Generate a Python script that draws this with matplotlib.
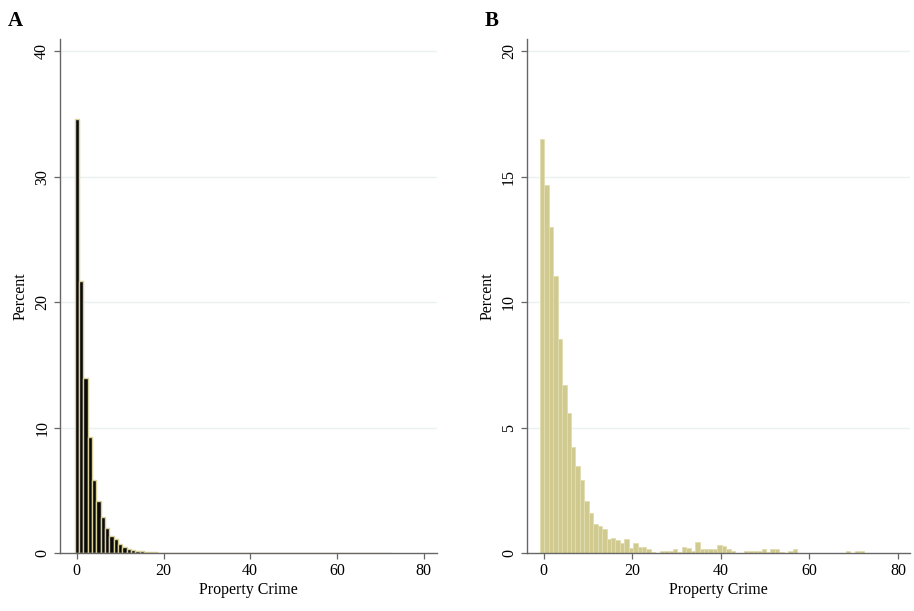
import matplotlib
matplotlib.use("Agg")
import matplotlib.pyplot as plt

plt.rcParams['font.family'] = ['Liberation Serif', 'DejaVu Serif']

# Panel A: percent of observations per integer count of property crime
a_bins = list(range(0, 73))
a_pct = [34.56, 21.67, 13.97, 9.22, 5.82, 4.17, 2.84, 2.02, 1.38, 1.12,
         0.69, 0.50, 0.34, 0.27, 0.19, 0.13, 0.10, 0.07, 0.05, 0.04,
         0.03, 0.02, 0.02, 0.01, 0.01, 0.01, 0.01, 0.01, 0.01, 0.01,
         0.01, 0.01, 0.01, 0.01, 0.01, 0.0, 0.0, 0.0, 0.0, 0.0,
         0.01, 0.01, 0.01, 0.01, 0.01, 0.01, 0.01, 0.01, 0.01, 0.01,
         0.01, 0.01, 0.01, 0.01, 0.01, 0.01, 0.01, 0.01, 0.0, 0.0,
         0.0, 0.0, 0.0, 0.0, 0.0, 0.0, 0.0, 0.0, 0.01, 0.01,
         0.01, 0.01, 0.0]

# Panel B: percent per bin (width 1) of property crime
b_bins = list(range(0, 73))
b_pct = [16.5, 14.66, 13.0, 11.04, 8.51, 6.69, 5.59, 4.24, 3.47, 2.91,
         2.08, 1.58, 1.16, 1.08, 0.97, 0.57, 0.60, 0.52, 0.39, 0.56,
         0.19, 0.39, 0.25, 0.23, 0.16, 0.05, 0.0, 0.10, 0.10, 0.10,
         0.15, 0.05, 0.23, 0.19, 0.10, 0.43, 0.15, 0.15, 0.15, 0.15,
         0.31, 0.27, 0.15, 0.08, 0.0, 0.0, 0.10, 0.10, 0.10, 0.10,
         0.17, 0.05, 0.15, 0.15, 0.05, 0.0, 0.10, 0.15, 0.0, 0.0,
         0.0, 0.0, 0.0, 0.0, 0.0, 0.0, 0.0, 0.0, 0.0, 0.10,
         0.0, 0.10, 0.10]

a_yticks = [0, 10, 20, 30, 40]
b_yticks = [0, 5, 10, 15, 20]
xticks = [0, 20, 40, 60, 80]

khaki_fill = '#d1ca90'
khaki_edge = '#e2ddb0'
grid_col = '#e9f1f3'
spine_col = '#666666'


def style_axes(ax, yticks, xlim, ylim):
    ax.set_xlim(*xlim)
    ax.set_ylim(*ylim)
    ax.set_xticks(xticks)
    ax.set_yticks(yticks)
    for t in ax.get_yticklabels():
        t.set_rotation(90)
        t.set_va('center')
    ax.tick_params(axis='both', direction='out', length=4, width=0.9,
                   color=spine_col, labelsize=11.5, pad=3)
    ax.spines['top'].set_visible(False)
    ax.spines['right'].set_visible(False)
    for s in ['left', 'bottom']:
        ax.spines[s].set_color(spine_col)
        ax.spines[s].set_linewidth(1.0)
    for y in yticks[1:]:
        ax.axhline(y, color=grid_col, lw=1.0, zorder=0)
    ax.set_xlabel('Property Crime', fontsize=11.5, labelpad=2)
    ax.set_ylabel('Percent', fontsize=11.5, labelpad=4)


fig = plt.figure(figsize=(9.14, 6.11), dpi=100)

ax1 = fig.add_axes([0.0656, 0.0949, 0.4125, 0.841])
ax1.bar(a_bins, a_pct, width=1.0, color='#0a0a0a', edgecolor='#d8d19a',
        linewidth=1.0, zorder=2)
style_axes(ax1, a_yticks, (-3.9, 83.1), (0, 40.96))

ax2 = fig.add_axes([0.5763, 0.0949, 0.4194, 0.841])
ax2.bar([b - 0.8 for b in b_bins], b_pct, width=1.0, align='edge',
        color=khaki_fill, edgecolor=khaki_edge, linewidth=0.6, zorder=2)
style_axes(ax2, b_yticks, (-3.8, 82.7), (0, 20.48))

fig.text(0.009, 0.958, 'A', fontsize=15, fontweight='bold')
fig.text(0.530, 0.958, 'B', fontsize=15, fontweight='bold')

fig.savefig('out.png', dpi=100)
